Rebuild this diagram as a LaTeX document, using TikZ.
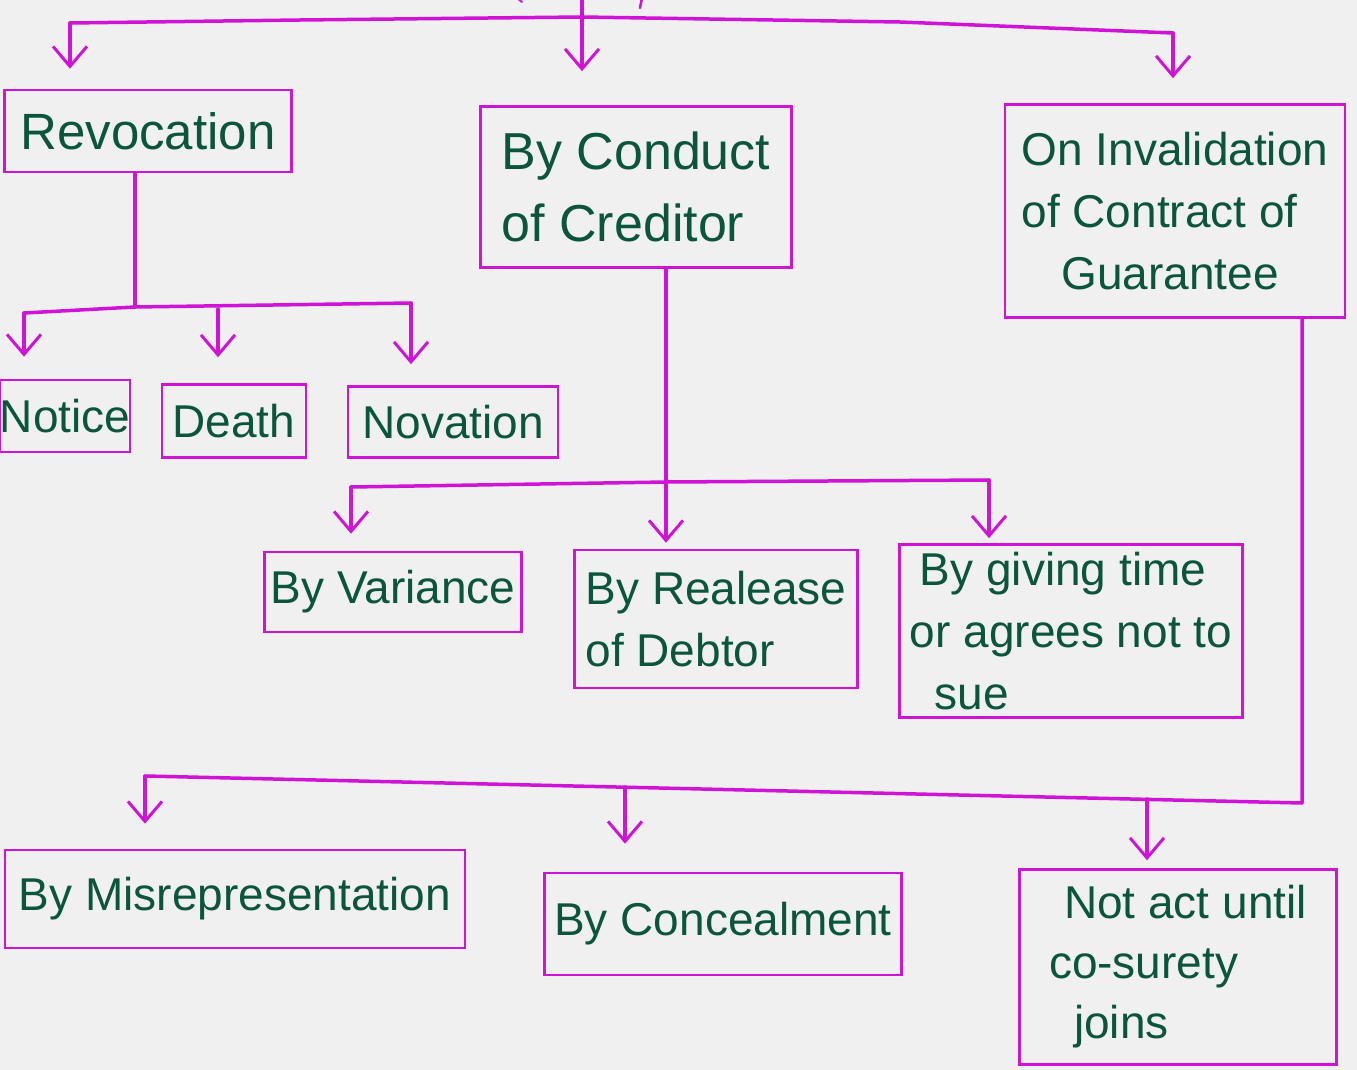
\documentclass[tikz,border=0pt]{standalone}
\usepackage{fontspec}
\setmainfont{Liberation Sans}
\usetikzlibrary{arrows.meta}
\definecolor{mag}{RGB}{208,20,214}
\definecolor{ink}{RGB}{10,85,60}
\definecolor{paper}{RGB}{240,240,240}
\begin{document}
\begin{tikzpicture}[x=1pt,y=-1pt,
  box/.style={draw=mag, line width=2.6pt, text=ink, font=\fontsize{46}{62}\selectfont, inner sep=0pt, align=left},
  link/.style={draw=mag, line width=3.5pt, line cap=round, line join=round},
  arr/.style={link, -{Straight Barb[length=20pt,width=34pt,line width=3pt]}}]
\fill[paper] (0,0) rectangle (1357,1070);
\useasboundingbox (0,0) rectangle (1357,1070);

% boxes
\node[box, minimum width=287pt, minimum height=82pt, font=\fontsize{51}{62}\selectfont] (rev) at (148,131) {Revocation};
\node[box, minimum width=311pt, minimum height=161pt, font=\fontsize{52}{72}\selectfont] (cond) at (636,187) {By Conduct\\of Creditor};
\node[box, minimum width=340pt, minimum height=213pt] (inv) at (1175,211) {On Invalidation\\of Contract of\\\hspace*{40pt}Guarantee};
\node[box, minimum width=130pt, minimum height=72pt] (notice) at (65,416) {Notice};
\node[box, minimum width=144pt, minimum height=73pt] (death) at (234,421) {Death};
\node[box, minimum width=210pt, minimum height=71pt] (nov) at (453,422) {Novation};
\node[box, minimum width=257pt, minimum height=80pt] (var) at (393,592) {By Variance};
\node[box, minimum width=283pt, minimum height=138pt] (rel) at (716,619) {By Realease\\of Debtor};
\node[box, minimum width=343pt, minimum height=173pt] (giv) at (1071,631) {\hspace*{10pt}By giving time\\or agrees not to\\\hspace*{25pt}sue};
\node[box, minimum width=460pt, minimum height=98pt] (mis) at (235,899) {By Misrepresentation};
\node[box, minimum width=357pt, minimum height=102pt] (con) at (723,924) {By Concealment};
\node[box, minimum width=317pt, minimum height=195pt, font=\fontsize{46}{60}\selectfont] (not) at (1178,967) {\hspace*{15pt}Not act until\\co-surety\\\hspace*{25pt}joins};

% top level
\coordinate (top) at (582,-10);
\coordinate (tj) at (582,17);
\coordinate (tl) at (70,23);
\coordinate (tr) at (1173,33);
\draw[link] (top) -- (tj);
\draw[link] (tl) -- (300,20) -- (tj) -- (900,22) -- (tr);
\draw[arr, shorten >=20pt] (tl) -- (tl |- rev.north);
\draw[arr, shorten >=34pt] (tj) -- (tj |- cond.north);
\draw[arr, shorten >=25pt] (tr) -- (tr |- inv.north);
\draw[mag, line width=2pt, line cap=round] (517,-2) -- (522,2);
\draw[mag, line width=2.5pt, line cap=round] (642,-2) -- (640,8);

% revocation branch
\coordinate (rj) at (135,307);
\coordinate (rl) at (24,313);
\coordinate (rm) at (218,309);
\coordinate (rr) at (411,303);
\draw[link] (rj |- rev.south) -- (rj);
\draw[link] (rl) -- (rj) -- (rr);
\draw[arr, shorten >=22pt] (rl) -- (rl |- notice.north);
\draw[arr, shorten >=26pt] (rm) -- (rm |- death.north);
\draw[arr, shorten >=21pt] (rr) -- (rr |- nov.north);

% conduct branch
\coordinate (cj) at (666,482);
\coordinate (cl) at (351,487);
\coordinate (cr) at (989,480);
\draw[link] (cj |- cond.south) -- (cj);
\draw[link] (cl) -- (cj) -- (cr);
\draw[arr, shorten >=17pt] (cl) -- (cl |- var.north);
\draw[arr, shorten >=6pt] (cj) -- (cj |- rel.north);
\draw[arr, shorten >=5pt] (cr) -- (cr |- giv.north);

% invalidation branch
\coordinate (ij) at (1302,803);
\coordinate (il) at (145,776);
\coordinate (im) at (625,787);
\coordinate (ir) at (1147,799);
\draw[link] (ij |- inv.south) -- (ij) -- (il);
\draw[arr, shorten >=25pt] (il) -- (il |- mis.north);
\draw[arr, shorten >=28pt] (im) -- (im |- con.north);
\draw[arr, shorten >=8pt] (ir) -- (ir |- not.north);
\end{tikzpicture}
\end{document}
